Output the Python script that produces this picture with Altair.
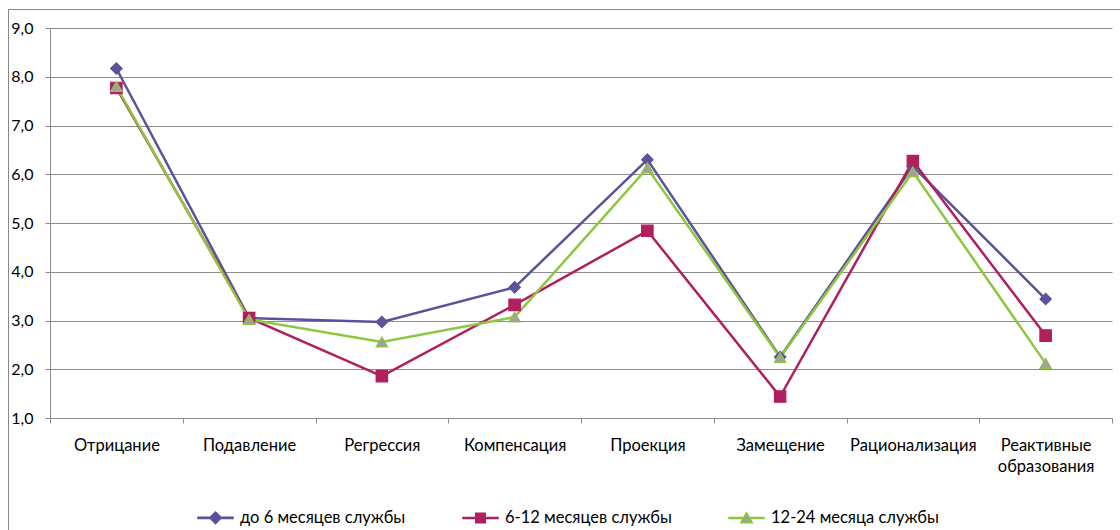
import altair as alt
import pandas as pd

# Categories (defence mechanisms) and mean scores per service-length group
categories = [
    "Отрицание", "Подавление", "Регрессия", "Компенсация",
    "Проекция", "Замещение", "Рационализация", "Реактивные образования",
]
series_names = ["до 6 месяцев службы", "6-12 месяцев службы", "12-24 месяца службы"]
under_6 = [8.17, 3.05, 2.97, 3.68, 6.30, 2.25, 6.16, 3.44]
from_6_to_12 = [7.77, 3.05, 1.86, 3.32, 4.84, 1.44, 6.27, 2.69]
from_12_to_24 = [7.80, 3.02, 2.56, 3.07, 6.13, 2.24, 6.05, 2.12]

line_colors = ["#5B5299", "#B01F5E", "#8EC63F"]
marker_fills = ["#5B5299", "#B01F5E", "#A0A0A0"]
marker_shapes = ["diamond", "square", "triangle-up"]

# Legend symbols: a short line segment with the marker on top
seg = "M-1,-0.035H1V0.035H-1Z"
seg_split = "M-1,-0.035H-0.14V0.035H-1ZM0.14,-0.035H1V0.035H0.14Z"
legend_shapes = [
    seg + "M0,-0.33L0.33,0L0,0.33L-0.33,0Z",
    seg + "M-0.27,-0.27H0.27V0.27H-0.27Z",
    seg_split + "M0,-0.3L0.33,0.27H-0.33Z",
]

rows = []
for name, vals in zip(series_names, [under_6, from_6_to_12, from_12_to_24]):
    for cat, v in zip(categories, vals):
        rows.append({"category": cat, "series": name, "value": v})
df = pd.DataFrame(rows)

FONT = "Lato"
GRID = "#8C8C8C"

x_enc = alt.X(
    "category:N",
    sort=categories,
    scale=alt.Scale(type="band", paddingInner=0, paddingOuter=0),
    axis=alt.Axis(
        title=None,
        labelAngle=0,
        tickBand="extent",
        tickSize=5,
        tickColor=GRID,
        domainColor=GRID,
        labelExpr="split(datum.label, ' ')",
        labelLineHeight=21,
        labelPadding=14,
        labelFontSize=16.5,
        labelColor="#000000",
        labelFont=FONT,
    ),
)
y_enc = alt.Y(
    "value:Q",
    scale=alt.Scale(domain=[1, 9], nice=False, zero=False),
    axis=alt.Axis(
        title=None,
        values=[1, 2, 3, 4, 5, 6, 7, 8, 9],
        labelExpr="replace(format(datum.value, '.1f'), '.', ',')",
        grid=True,
        gridColor=GRID,
        gridWidth=1,
        tickSize=5,
        tickColor=GRID,
        domainColor=GRID,
        labelPadding=12,
        labelFontSize=16,
        labelColor="#000000",
        labelFont=FONT,
    ),
)

base = alt.Chart(df)

lines = base.mark_line(strokeWidth=2.5).encode(
    x=x_enc,
    y=y_enc,
    stroke=alt.Stroke("series:N", sort=series_names,
                      scale=alt.Scale(domain=series_names, range=line_colors), legend=None),
    detail="series:N",
)

points = base.mark_point(filled=True, opacity=1, strokeWidth=1.2).encode(
    x=x_enc,
    y=y_enc,
    shape=alt.Shape("series:N", scale=alt.Scale(domain=series_names, range=marker_shapes), legend=None),
    fill=alt.Fill("series:N", scale=alt.Scale(domain=series_names, range=marker_fills), legend=None),
    stroke=alt.Stroke("series:N", scale=alt.Scale(domain=series_names, range=line_colors), legend=None),
    size=alt.value(130),
)

legend_cfg = alt.Legend(
    title=None,
    orient="none",
    legendX=147,
    legendY=471,
    direction="horizontal",
    symbolSize=1225,
    symbolStrokeWidth=1.5,
    labelFontSize=16.5,
    labelFont=FONT,
    labelColor="#000000",
    labelOffset=6,
    labelLimit=400,
    columnPadding=54,
)

legend_layer = base.transform_filter("false").mark_point(filled=True, opacity=1, strokeWidth=1.5).encode(
    x=x_enc,
    y=y_enc,
    shape=alt.Shape("series:N", scale=alt.Scale(domain=series_names, range=legend_shapes), legend=legend_cfg),
    fill=alt.Fill("series:N", scale=alt.Scale(domain=series_names, range=marker_fills), legend=legend_cfg),
    stroke=alt.Stroke("series:N", scale=alt.Scale(domain=series_names, range=line_colors), legend=legend_cfg),
)

# Outer frame of the chart area (top and left edges)
frame_df = pd.DataFrame({"k": [0]})
frame_top = alt.Chart(frame_df).mark_rule(color="#878787", strokeWidth=1).encode(
    x=alt.value(-41.5), x2=alt.value(1080), y=alt.value(-18.5)
)
frame_left = alt.Chart(frame_df).mark_rule(color="#878787", strokeWidth=1).encode(
    x=alt.value(-41.5), y=alt.value(-18.5), y2=alt.value(510)
)

chart = (
    alt.layer(lines, points, legend_layer, frame_top, frame_left)
    .resolve_scale(shape="independent", fill="independent", stroke="independent")
    .resolve_legend(shape="independent", fill="independent", stroke="independent")
    .properties(
        width=1062,
        height=390,
        autosize=alt.AutoSizeParams(type="none"),
        padding={"left": 50, "top": 28, "right": 8, "bottom": 112},
        background="white",
    )
    .configure_view(stroke=None)
)

chart.save("out.html", embed_options={"renderer": "svg", "actions": False})
